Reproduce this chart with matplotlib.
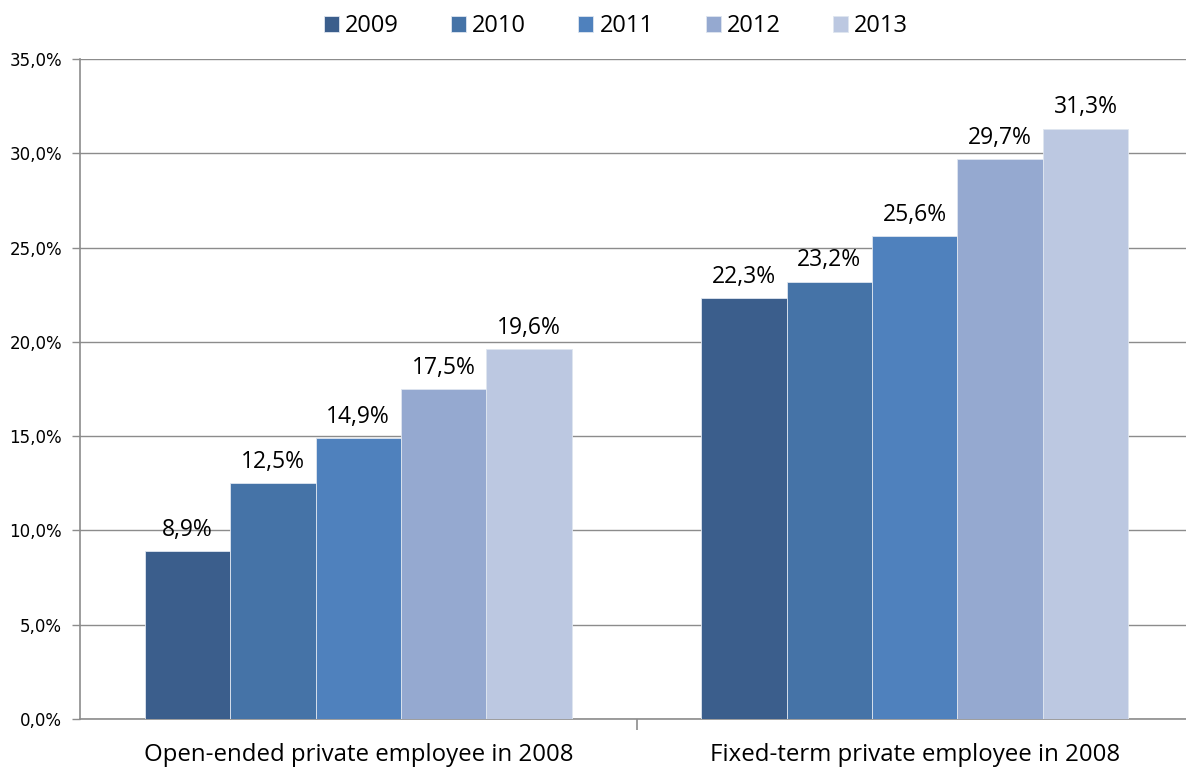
import matplotlib.pyplot as plt
import numpy as np

# share of workers, by contract type in 2008 and year
categories = ["Open-ended private employee in 2008", "Fixed-term private employee in 2008"]
years = ["2009", "2010", "2011", "2012", "2013"]
values = {
    "2009": [8.9, 22.3],
    "2010": [12.5, 23.2],
    "2011": [14.9, 25.6],
    "2012": [17.5, 29.7],
    "2013": [19.6, 31.3],
}
colors = ["#3B5E8C", "#4573A7", "#4F81BD", "#95A9D0", "#BCC8E1"]

label_font = "Open Sans"

fig = plt.figure(figsize=(11.86, 7.67), dpi=100)
ax = fig.add_axes([80 / 1186, 48 / 767, 1113 / 1186, 660 / 767])

x = np.arange(len(categories))
width = 0.1535
for i, yr in enumerate(years):
    pos = x + (i - 2) * width
    bars = ax.bar(pos, values[yr], width, color=colors[i], label=yr,
                  edgecolor="#dfe6f0", linewidth=0.6, zorder=3)
    for b, v in zip(bars, values[yr]):
        ax.text(b.get_x() + b.get_width() / 2, v + 0.5,
                f"{v:.1f}%".replace(".", ","), ha="center", va="bottom",
                fontsize=16.5, family=label_font, zorder=4)

ax.set_xlim(-0.5, 1.5)
ax.set_ylim(0, 35)
ax.set_yticks(np.arange(0, 35.1, 5))
ax.set_yticklabels([f"{t:.1f}%".replace(".", ",") for t in np.arange(0, 35.1, 5)],
                   fontsize=12)
ax.yaxis.grid(True, color="#8c8c8c", linewidth=1.0, zorder=0)

# category labels between the group dividers
ax.set_xticks([0.5], minor=False)
ax.set_xticklabels([""])
ax.tick_params(axis="x", length=8, color="#8c8c8c", width=1.2)
ax.tick_params(axis="y", length=6, color="#8c8c8c", width=1.0, pad=7)
for xi, c in zip(x, categories):
    ax.text(xi, -1.25, c, ha="center", va="top", fontsize=17.3, family=label_font)

for s in ["top", "right"]:
    ax.spines[s].set_visible(False)
for s in ["left", "bottom"]:
    ax.spines[s].set_color("#8c8c8c")
    ax.spines[s].set_linewidth(1.2)

fig.legend(loc="upper center", bbox_to_anchor=(616 / 1186, 1.009), ncol=5,
           frameon=False, prop={"family": label_font, "size": 17},
           handlelength=0.64, handleheight=0.64, handletextpad=0.26,
           columnspacing=2.2)

fig.savefig("out.png", dpi=100)
